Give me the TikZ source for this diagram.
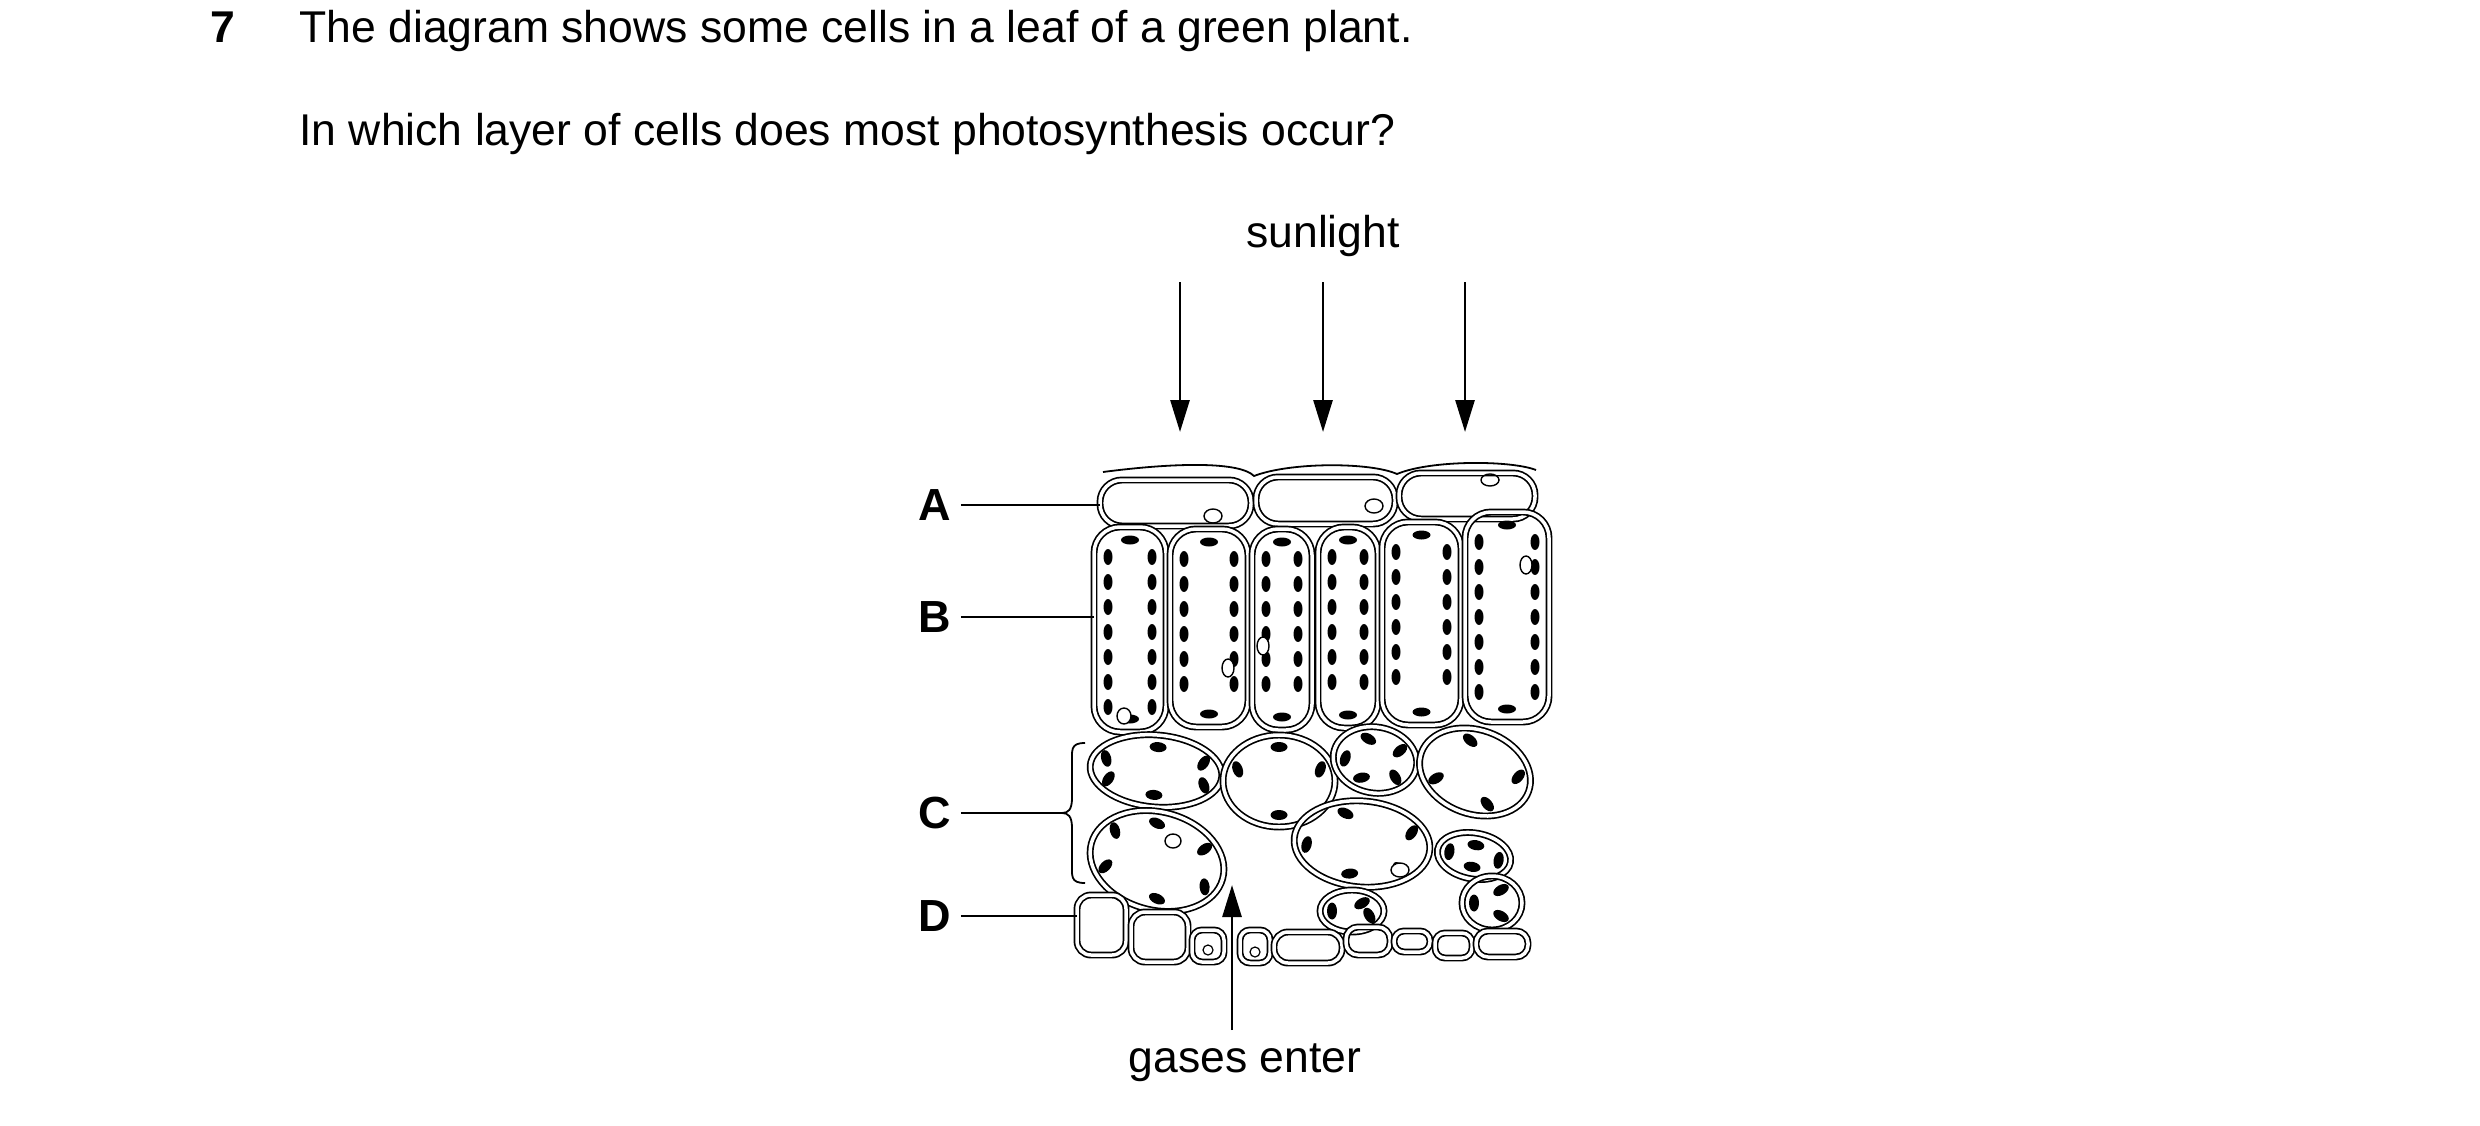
\documentclass[tikz,border=0pt]{standalone}
\usepackage{fontspec}
\setmainfont{Liberation Sans}
\usetikzlibrary{arrows.meta}
\begin{document}
\begin{tikzpicture}[x=1pt,y=-1pt,
  cellw/.style={draw,double,double distance=3.5pt,line width=1.7pt},
  cp/.style={fill=black},
  lab/.style={font=\fontsize{45}{52}\selectfont\bfseries},
  txt/.style={font=\fontsize{44.5}{52}\selectfont,anchor=base west},
  lead/.style={line width=1.8pt},
  arr/.style={line width=2.8pt,-{Triangle[length=32pt,width=19pt]}}]
\useasboundingbox (0,0) rectangle (2480,1126);
\newcommand\palcell[4]{%
  \draw[cellw,rounded corners=26] (#1,#2) rectangle (#3,#4);
  \pgfmathtruncatemacro\nn{(#4-#2-55)/25}
  \foreach \i in {0,...,\nn}{
    \fill[cp] ({#1+14},{#2+30+\i*25}) ellipse (4.5 and 8);
    \fill[cp] ({#3-14},{#2+30+\i*25}) ellipse (4.5 and 8);}
  \fill[cp] ({(#1+#3)/2},{#2+13}) ellipse (9 and 4.5);
  \fill[cp] ({(#1+#3)/2},{#4-13}) ellipse (9 and 4.5);}
\newcommand\spcell[6]{% cx cy rx ry rot angles
  \begin{scope}[shift={(#1,#2)},rotate=#5]
  \draw[cellw] (0,0) ellipse (#3 and #4);
  \foreach \a in {#6}{\fill[cp,rotate around={\a+90:(\a:{#3-12} and {#4-12})}] (\a:{#3-12} and {#4-12}) ellipse (8.5 and 5);}
  \end{scope}}
% text
\node[txt] (n7) at (207,43) {\textbf{7}};
\node[txt] (q1) at (296,43) {The diagram shows some cells in a leaf of a green plant.};
\node[txt] (q2) at (296,146) {In which layer of cells does most photosynthesis occur?};
\node[font=\fontsize{44.5}{52}\selectfont] (sun) at (1323,236) {sunlight};
\coordinate (s1) at (1180,282); \coordinate (e1) at (1180,432);
\coordinate (s2) at (1323,282); \coordinate (e2) at (1323,432);
\coordinate (s3) at (1465,282); \coordinate (e3) at (1465,432);
\draw[arr] (s1)--(e1); \draw[arr] (s2)--(e2); \draw[arr] (s3)--(e3);
% cuticle
\draw[lead] (1103,472) .. controls (1180,462) and (1240,462) .. (1254,476)
  .. controls (1290,462) and (1370,462) .. (1397,474)
  .. controls (1430,460) and (1510,460) .. (1536,470);
% upper epidermis
\draw[cellw,rounded corners=22] (1100,480) rectangle (1251,526);
\draw[cellw,rounded corners=22] (1256,477) rectangle (1395,524);
\draw[cellw,rounded corners=22] (1399,473) rectangle (1535,519);
\draw[line width=1.4pt] (1213,516) ellipse (9 and 7);
\draw[line width=1.4pt] (1374,506) ellipse (9 and 7);
\draw[line width=1.4pt] (1490,480) ellipse (9 and 6);
% palisade
\palcell{1094}{527}{1166}{732}
\palcell{1170}{529}{1248}{727}
\palcell{1252}{529}{1312}{730}
\palcell{1318}{527}{1378}{728}
\palcell{1382}{522}{1461}{725}
\palcell{1465}{512}{1549}{722}
\draw[line width=1.4pt,fill=white] (1124,716) ellipse (7 and 8);
\draw[line width=1.4pt,fill=white] (1228,668) ellipse (6 and 9);
\draw[line width=1.4pt,fill=white] (1263,646) ellipse (6 and 9);
\draw[line width=1.4pt,fill=white] (1526,565) ellipse (6 and 9);
% spongy
\spcell{1156}{771}{66}{36}{-5}{25,90,150,200,270,330}
\spcell{1279}{781}{56}{46}{0}{90,200,270,340}
\spcell{1375}{760}{42}{33}{-10}{40,110,170,250,320}
\spcell{1475}{772}{57}{42}{-20}{60,140,250,340}
\spcell{1157}{861}{68}{49}{-15}{20,80,150,210,260,320}
\spcell{1362}{844}{68}{43}{-5}{45,100,170,250,330}
\draw[line width=1.4pt,fill=white] (1173,841) ellipse (8 and 7);
\draw[line width=1.4pt,fill=white] (1400,870) ellipse (9 and 7);
\spcell{1474}{856}{37}{23}{-10}{0,90,180,270}
\spcell{1492}{903}{30}{27}{0}{60,180,300}
\spcell{1352}{911}{32}{21}{0}{30,180,300}
% lower epidermis
\draw[cellw,rounded corners=14] (1077,895) rectangle (1126,955);
\draw[cellw,rounded corners=14] (1131,912) rectangle (1188,962);
\draw[cellw,rounded corners=10] (1192,930) rectangle (1224,962);
\draw[cellw,rounded corners=10] (1240,930) rectangle (1270,963);
\draw[line width=1.2pt] (1208,950) circle (5) (1255,952) circle (5);
\draw[cellw,rounded corners=14] (1274,932) rectangle (1342,963);
\draw[cellw,rounded corners=12] (1346,927) rectangle (1390,955);
\draw[cellw,rounded corners=10] (1394,931) rectangle (1430,952);
\draw[cellw,rounded corners=10] (1435,933) rectangle (1472,958);
\draw[cellw,rounded corners=12] (1476,931) rectangle (1528,957);
% labels
\node[lab] (A) at (935,505) {A}; \coordinate (a2) at (1100,505);
\node[lab] (B) at (935,617) {B}; \coordinate (b2) at (1094,617);
\node[lab] (C) at (935,813) {C}; \coordinate (c2) at (1062,813);
\node[lab] (D) at (935,916) {D}; \coordinate (d2) at (1077,916);
\draw[lead] (A.east)++(6,0) -- (a2);
\draw[lead] (B.east)++(6,0) -- (b2);
\draw[lead] (C.east)++(6,0) -- (c2);
\draw[lead] (D.east)++(6,0) -- (d2);
\draw[lead] (1085,743) .. controls (1070,743) and (1072,750) .. (1072,765) -- (1072,798)
  .. controls (1072,810) and (1068,813) .. (1062,813)
  .. controls (1068,813) and (1072,816) .. (1072,828) -- (1072,862)
  .. controls (1072,876) and (1070,883) .. (1085,883);
% gases
\coordinate (g1) at (1232,1030); \coordinate (g2) at (1232,885);
\draw[arr] (g1)--(g2);
\node[font=\fontsize{44.5}{52}\selectfont] (gas) at (1245,1063) {gases enter};
\end{tikzpicture}
\end{document}
